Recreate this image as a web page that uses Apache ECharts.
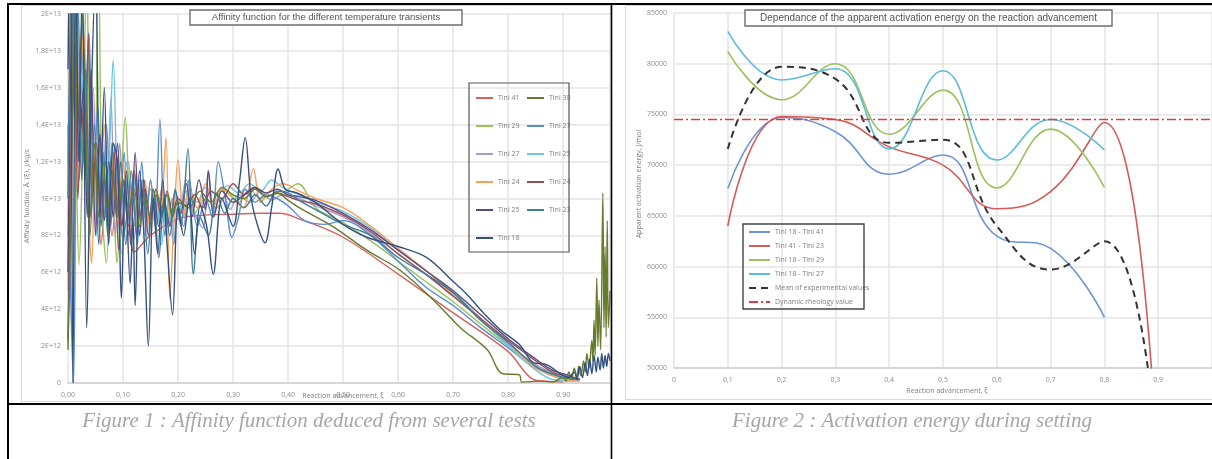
<!DOCTYPE html>
<html><head><meta charset="utf-8">
<script src="https://cdn.jsdelivr.net/npm/echarts@6/dist/echarts.min.js"></script>
<style>html,body{margin:0;padding:0;background:#fff}#c{width:1212px;height:459px}</style>
</head><body><div id="c"></div>
<script>
// ---------- Figure 1 : affinity function, [reaction advancement, value in 1E12 J/kg/s] ----------
const tini41 = [[0,2.2],[0.006,12],[0.012,19],[0.02,11],[0.03,15],[0.04,9],[0.05,12],[0.06,7.5],[0.07,11],[0.08,8],[0.09,10.5],[0.1,7.8],[0.11,9.5],[0.12,7.1],[0.15,8.0],[0.2,8.9],[0.25,9.1],[0.3,9.15],[0.35,9.2],[0.385,9.2],[0.42,8.9],[0.5,7.9],[0.6,5.9],[0.7,3.8],[0.8,1.7],[0.845,0.2],[0.87,0.1],[0.9,0.05]];
const tini30 = [[0,1.8],[0.006,10],[0.012,22],[0.018,14],[0.026,20],[0.034,12],[0.04,8],[0.048,13],[0.056,9],[0.064,12],[0.072,9.5],[0.08,11.5],[0.09,9],[0.1,11],[0.11,9.5],[0.12,10.5],[0.13,8.5],[0.14,10],[0.15,9],[0.16,10.5],[0.17,9.5],[0.18,10.2],[0.19,9],[0.2,9.8],[0.22,9.5],[0.24,10.4],[0.26,9.8],[0.28,10.6],[0.3,10.2],[0.32,10.0],[0.34,10.5],[0.36,10.1],[0.38,10.3],[0.4,9.9],[0.42,9.5],[0.48,8.5],[0.543,7.2],[0.604,6.1],[0.664,4.5],[0.713,3.0],[0.762,1.8],[0.79,0.5],[0.82,0.45],[0.825,0.05],[0.86,0.1],[0.88,0.05],[0.9,0.3],[0.905,0.1],[0.91,0.6],[0.915,0.2],[0.92,0.8],[0.925,0.3],[0.928,0.9],[0.932,0.4],[0.937,1.2],[0.94,0.6],[0.943,1.6],[0.947,0.8],[0.952,2.3],[0.954,1.2],[0.956,3.4],[0.958,1.5],[0.961,5.7],[0.963,2.0],[0.965,4.5],[0.968,1.8],[0.972,10.3],[0.974,3.0],[0.976,7.4],[0.978,2.5],[0.98,8.8],[0.982,3.0],[0.985,5.0]];
const tini29 = [[0,5],[0.004,14],[0.01,21],[0.015,12],[0.02,6.4],[0.027,13],[0.034,22],[0.04,12],[0.048,9],[0.055,24],[0.062,9.5],[0.07,6.5],[0.078,12],[0.084,9],[0.089,6.5],[0.097,11],[0.104,14.4],[0.112,10],[0.12,8.5],[0.13,11],[0.14,9],[0.15,10.5],[0.16,9],[0.17,10],[0.18,8.5],[0.19,10],[0.2,9.2],[0.215,10.4],[0.23,9.2],[0.25,10],[0.27,9.5],[0.29,10.3],[0.31,9.8],[0.33,10.5],[0.35,10],[0.37,10.2],[0.39,10.3],[0.418,10.8],[0.45,9.5],[0.5,8.7],[0.55,7.7],[0.6,6.6],[0.65,5.5],[0.7,4.4],[0.75,3.2],[0.8,2.0],[0.85,0.9],[0.88,0.4],[0.9,0.2]];
const tini27a = [[0,8],[0.006,16],[0.014,24],[0.022,13],[0.03,18],[0.038,9],[0.046,16],[0.054,8.5],[0.062,13],[0.07,9],[0.078,15.5],[0.086,8],[0.094,13],[0.102,9],[0.11,12],[0.12,7.8],[0.13,11.5],[0.14,8],[0.15,11],[0.16,8.5],[0.17,10.5],[0.18,8],[0.19,10],[0.2,9],[0.215,11],[0.23,9.2],[0.245,8.4],[0.255,11.5],[0.265,9.2],[0.28,10.5],[0.295,9.4],[0.31,10.2],[0.33,9.8],[0.35,10.4],[0.37,9.9],[0.39,10.2],[0.42,10],[0.45,9.6],[0.5,9.0],[0.55,8.1],[0.6,7.0],[0.65,5.9],[0.7,4.8],[0.75,3.4],[0.8,2.1],[0.85,1.0],[0.9,0.3],[0.93,0.15]];
const tini27b = [[0,14],[0.004,6],[0.01,0],[0.016,20],[0.022,26],[0.03,14],[0.038,19],[0.046,10],[0.054,15],[0.062,9],[0.07,14],[0.078,8.5],[0.086,13],[0.094,9],[0.102,12.5],[0.11,8],[0.118,11],[0.126,7.5],[0.134,12],[0.142,9],[0.15,11],[0.158,8.5],[0.167,14.3],[0.176,8],[0.184,10],[0.192,7.5],[0.2,9.5],[0.21,8.5],[0.22,11],[0.235,8.5],[0.25,10],[0.262,9],[0.273,12.0],[0.286,10],[0.298,7.9],[0.31,9],[0.322,10.5],[0.34,9.8],[0.36,10.2],[0.38,10],[0.4,9.6],[0.43,8.8],[0.467,8.6],[0.5,8.8],[0.55,8.0],[0.6,6.6],[0.65,5.2],[0.7,4.2],[0.75,3.0],[0.8,1.9],[0.85,0.8],[0.9,0.3],[0.93,0.15]];
const tini25a = [[0,6],[0.005,17],[0.012,23],[0.02,12],[0.028,16],[0.035,9],[0.042,17],[0.05,8],[0.058,13.5],[0.066,8.8],[0.074,12],[0.082,9],[0.09,13],[0.098,8.5],[0.106,11.5],[0.114,7.5],[0.122,12.5],[0.13,8],[0.138,11],[0.146,8],[0.155,10.5],[0.165,8.5],[0.175,9.8],[0.185,8.5],[0.195,10.4],[0.205,9.2],[0.215,10.8],[0.225,9],[0.238,11],[0.25,9.4],[0.255,11.5],[0.265,9],[0.28,10.4],[0.3,9.8],[0.32,10.2],[0.34,10.6],[0.36,10.3],[0.38,10.5],[0.4,10.2],[0.42,10.1],[0.45,9.9],[0.5,9.2],[0.55,8.3],[0.6,7.2],[0.65,6.1],[0.7,5.0],[0.75,3.7],[0.8,2.4],[0.85,1.3],[0.88,0.7],[0.9,0.5],[0.93,0.2]];
const tini25b = [[0,9],[0.006,18],[0.012,25],[0.02,14],[0.028,17],[0.036,10],[0.044,13],[0.052,8],[0.06,12],[0.068,9],[0.076,13],[0.082,17.5],[0.09,10],[0.098,7],[0.106,12],[0.114,9],[0.122,11],[0.13,8],[0.14,10.5],[0.15,8.5],[0.16,10],[0.17,7.5],[0.18,10.2],[0.19,8.5],[0.2,10],[0.21,9],[0.22,10.5],[0.235,9.8],[0.25,10.6],[0.27,10.2],[0.29,10.7],[0.31,10.3],[0.33,10.8],[0.35,10.4],[0.37,11],[0.39,10.6],[0.42,10.2],[0.45,9.8],[0.5,9.3],[0.55,8.4],[0.6,7.2],[0.65,6.1],[0.7,4.9],[0.75,3.5],[0.8,2.0],[0.85,0.7],[0.88,0.2],[0.92,0.1]];
const tini24a = [[0,12],[0.005,20],[0.012,26],[0.02,15],[0.028,19],[0.036,10],[0.043,6.5],[0.05,13],[0.058,9],[0.066,14],[0.074,9.5],[0.082,12.5],[0.09,8.5],[0.1,12],[0.11,9],[0.12,11.5],[0.13,8.5],[0.14,11],[0.15,8],[0.16,10.5],[0.168,9],[0.178,13.3],[0.185,4.6],[0.193,9],[0.2,12.1],[0.21,9],[0.22,10.5],[0.235,9.5],[0.25,10.8],[0.265,9.6],[0.28,10.5],[0.3,10],[0.318,9.5],[0.337,11.6],[0.35,9.8],[0.37,10.5],[0.39,10.8],[0.42,10.4],[0.45,10.0],[0.5,9.5],[0.55,8.5],[0.6,7.3],[0.65,6.1],[0.7,4.8],[0.75,3.5],[0.8,2.2],[0.85,0.8],[0.9,0.2],[0.93,0.1]];
const tini24b = [[0,2.4],[0.005,12],[0.012,18.5],[0.018,10],[0.025,15],[0.031,11],[0.037,18.9],[0.044,10],[0.052,13],[0.06,8.5],[0.068,12],[0.076,8.5],[0.084,12.5],[0.092,7.2],[0.1,11],[0.11,8.5],[0.12,11.5],[0.13,9],[0.14,10.5],[0.15,8.8],[0.16,10.2],[0.17,9],[0.18,10.4],[0.19,9.2],[0.2,10],[0.215,9.6],[0.23,10.2],[0.245,9.5],[0.26,10.4],[0.28,10.0],[0.3,10.8],[0.32,10.2],[0.34,10.6],[0.36,10.1],[0.38,10.3],[0.4,10.1],[0.42,9.9],[0.45,9.7],[0.5,9.1],[0.55,8.2],[0.6,7.0],[0.65,5.9],[0.7,4.7],[0.75,3.5],[0.8,2.3],[0.85,1.2],[0.88,0.6],[0.9,0.4],[0.93,0.2]];
const tini23 = [[0,10],[0.006,22],[0.012,14],[0.018,21],[0.025,11],[0.032,17],[0.04,9],[0.048,14],[0.056,7.5],[0.064,12.5],[0.072,8],[0.08,13],[0.088,9],[0.096,12],[0.105,7.5],[0.115,11.5],[0.125,8],[0.135,11],[0.145,7],[0.155,10.5],[0.165,6.8],[0.175,10],[0.185,8],[0.195,10.5],[0.205,8.5],[0.218,12.7],[0.228,5.9],[0.24,9],[0.255,8],[0.27,10.3],[0.285,9.2],[0.3,10],[0.32,9.5],[0.34,10.2],[0.36,9.6],[0.38,10.4],[0.4,10.3],[0.42,9.9],[0.45,9.4],[0.5,8.6],[0.55,8.0],[0.6,6.8],[0.65,5.9],[0.7,4.9],[0.75,3.4],[0.8,2.2],[0.85,0.9],[0.88,0.5],[0.9,0.3],[0.93,0.2]];
const tini18 = [[0,17],[0.004,25],[0.009,0],[0.014,24],[0.02,12],[0.026,22],[0.034,3.0],[0.042,15],[0.05,22],[0.058,9],[0.066,16],[0.074,7.5],[0.082,13],[0.09,12],[0.097,4.6],[0.104,11],[0.113,5.4],[0.118,9],[0.122,4.2],[0.13,11.5],[0.138,8],[0.146,2.0],[0.155,10],[0.163,7],[0.172,11],[0.18,7.5],[0.19,3.7],[0.2,9.5],[0.21,8],[0.22,10],[0.23,7],[0.24,9.6],[0.252,8.5],[0.264,5.9],[0.28,10],[0.3,8.5],[0.312,11],[0.322,13.3],[0.333,10],[0.345,8.5],[0.358,7.6],[0.37,9.5],[0.382,11.6],[0.395,10.5],[0.416,10.3],[0.449,9.8],[0.5,8.6],[0.543,7.9],[0.6,7.4],[0.652,6.8],[0.7,5.5],[0.725,4.8],[0.755,3.8],[0.785,2.9],[0.82,2.1],[0.846,1.1],[0.87,1.0],[0.895,0.5],[0.91,0.3],[0.92,0.6],[0.925,0.2],[0.93,0.9],[0.935,0.3],[0.94,1.1],[0.944,0.4],[0.948,1.3],[0.952,0.5],[0.956,1.5],[0.96,0.6],[0.963,1.4],[0.967,0.7],[0.97,1.6],[0.973,0.8],[0.976,1.5],[0.979,0.9],[0.982,1.6],[0.985,1.2]];
const fig1YLabels = ['0','2E+12','4E+12','6E+12','8E+12','1E+13','1,2E+13','1,4E+13','1,6E+13','1,8E+13','2E+13'];

// ---------- Figure 2 : apparent activation energy (J/mol) ----------
const fig2X = [0.1,0.2,0.3,0.4,0.5,0.6,0.7,0.8];
const fig2XExt = [0.1,0.2,0.3,0.4,0.5,0.6,0.7,0.8,0.9];
const t18_41 = [67700,74700,73300,69100,71000,63000,61800,55000];
const t41_23 = [64000,74800,74500,71800,70000,65700,67400,74200,38500];
const t18_29 = [81200,76450,80000,73050,77400,67750,73550,67800];
const t18_27 = [83200,78400,79500,71600,79300,70500,74500,71500];
const meanExp = [71600,79700,78500,72200,72500,64000,59700,62500,40500];
const dynRheology = 74500;
const dynX = [0,1];

// ---------- styling ----------
const fig1 = [
  {name:'Tini 41', data:tini41, color:'#d6625c'},
  {name:'Tini 29', data:tini29, color:'#98c25a'},
  {name:'Tini 27', data:tini27a, color:'#a99bd0'},
  {name:'Tini 27 ', data:tini27b, color:'#5a8ed0'},
  {name:'Tini 25 ', data:tini25b, color:'#6fc6de'},
  {name:'Tini 24', data:tini24a, color:'#f8a058'},
  {name:'Tini 24 ', data:tini24b, color:'#9a4e50'},
  {name:'Tini 25', data:tini25a, color:'#5c4a7e'},
  {name:'Tini 23', data:tini23, color:'#3d7d96'},
  {name:'Tini 30', data:tini30, color:'#667c2c'},
  {name:'Tini 18', data:tini18, color:'#34507e'}
];
const legendCol1 = ['Tini 41','Tini 29','Tini 27','Tini 24','Tini 25','Tini 18'];
const legendCol2 = ['Tini 30','Tini 27 ','Tini 25 ','Tini 24 ','Tini 23'];

const axisFont = {fontFamily:'Open Sans', fontSize:7, color:'#8c8c8c'};
const gridLine = {show:true, lineStyle:{color:'#e4e4e4', width:1.5}};

const series = [];
fig1.forEach(s => series.push({
  type:'line', name:s.name, xAxisIndex:0, yAxisIndex:0, data:s.data,
  smooth:0.35, symbol:'none', lineStyle:{width:1.4, color:s.color}, itemStyle:{color:s.color},
  clip:true, z:2
}));
function pairs(xs, ys){ return ys.map((v,i)=>[xs[i], v]); }
const fig2 = [
  {name:'Tini 18 - Tini 41', data:pairs(fig2X,t18_41), color:'#6b95d4', type:'solid'},
  {name:'Tini 41 - Tini 23', data:pairs(fig2XExt,t41_23), color:'#d45a55', type:'solid'},
  {name:'Tini 18 - Tini 29', data:pairs(fig2X,t18_29), color:'#9bc25a', type:'solid'},
  {name:'Tini 18 - Tini 27', data:pairs(fig2X,t18_27), color:'#5bbcdc', type:'solid'},
  {name:'Mean of experimental values', data:pairs(fig2XExt,meanExp), color:'#333333', type:[7,5], width:2},
  {name:'Dynamic rheology value', data:dynX.map(x=>[x,dynRheology]), color:'#e03c3c', type:[9,3,2,3], width:1.6, smooth:false}
];
fig2.forEach(s => series.push({
  type:'line', name:s.name, xAxisIndex:1, yAxisIndex:1, data:s.data,
  smooth: s.smooth===false ? false : 0.45, symbol:'none',
  lineStyle:{width:s.width||1.6, color:s.color, type:s.type}, itemStyle:{color:s.color}, clip:true
}));

const legendText = {fontFamily:'Open Sans', fontSize:7, color:'#7f7f7f', lineHeight:8};
const legendBase = {orient:'vertical', padding:0, itemHeight:8, selectedMode:false, textStyle:legendText, itemStyle:{opacity:0}};
const option = {
  backgroundColor:'#ffffff',
  animation:false,
  grid:[
    {left:68, top:14, width:542, height:369},
    {left:674, top:13, width:548, height:355}
  ],
  xAxis:[
    {gridIndex:0, type:'value', min:0, max:0.985, interval:0.1,
     axisLine:{show:true, lineStyle:{color:'#d0d0d0', width:1.5}}, axisTick:{show:false},
     axisLabel:Object.assign({margin:8, showMaxLabel:false, formatter:v=>v.toFixed(2).replace('.',',')}, axisFont),
     splitLine:gridLine},
    {gridIndex:1, type:'value', min:0, max:1, interval:0.1,
     axisLine:{show:true, lineStyle:{color:'#d0d0d0', width:1.5}}, axisTick:{show:false},
     axisLabel:Object.assign({margin:8, showMaxLabel:false, formatter:v=>v===0?'0':parseFloat(v.toFixed(1)).toString().replace('.',',')}, axisFont),
     splitLine:gridLine}
  ],
  yAxis:[
    {gridIndex:0, type:'value', min:0, max:20, interval:2,
     axisLine:{show:false}, axisTick:{show:false},
     axisLabel:Object.assign({margin:7, formatter:v=>fig1YLabels[Math.round(v/2)]}, axisFont),
     splitLine:gridLine},
    {gridIndex:1, type:'value', min:50000, max:85000, interval:5000,
     axisLine:{show:false}, axisTick:{show:false},
     axisLabel:Object.assign({margin:7, formatter:v=>String(v)}, axisFont),
     splitLine:gridLine}
  ],
  legend:[
    Object.assign({data:legendCol1, left:475, top:94, itemGap:20, itemWidth:17, formatter:n=>n.trim()}, legendBase),
    Object.assign({data:legendCol2, left:526, top:94, itemGap:20, itemWidth:17, formatter:n=>n.trim()}, legendBase),
    Object.assign({data:fig2.map(s=>s.name), left:748, top:228, itemGap:6, itemWidth:21}, legendBase)
  ],
  series:series,
  graphic:[
    // chart frames
    {type:'rect', shape:{x:21.5, y:5.5, width:589, height:396}, style:{fill:null, stroke:'#d9d9d9', lineWidth:1}, z:-1},
    {type:'rect', shape:{x:625.5, y:5.5, width:600, height:394}, style:{fill:null, stroke:'#d9d9d9', lineWidth:1}, z:-1},
    // legend boxes
    {type:'rect', shape:{x:469, y:83, width:100, height:169}, style:{fill:'rgba(255,255,255,0)', stroke:'#555', lineWidth:1.2}, z:5},
    {type:'rect', shape:{x:743, y:224, width:121, height:85}, style:{fill:'rgba(255,255,255,0)', stroke:'#444', lineWidth:1.4}, z:5},
    // titles
    {type:'rect', shape:{x:190, y:10, width:272, height:15}, style:{fill:'#fff', stroke:'#6e6e6e', lineWidth:1.4}, z:10},
    {type:'text', x:326, y:17.5, z:11, style:{text:'Affinity function for the different temperature transients', fontFamily:'Liberation Sans', fontSize:9.5, fill:'#555', align:'center', verticalAlign:'middle'}},
    {type:'rect', shape:{x:745, y:10, width:367, height:16}, style:{fill:'#fff', stroke:'#6e6e6e', lineWidth:1.4}, z:10},
    {type:'text', x:928.5, y:18, z:11, style:{text:'Dependance of the apparent activation energy on the reaction advancement', fontFamily:'Liberation Sans', fontSize:10, fill:'#555', align:'center', verticalAlign:'middle'}},
    // axis titles
    {type:'text', x:27, y:196, rotation:Math.PI/2, z:11, style:{text:'Affinity function, Ã\u1d62 (ξ), J/kg/s', fontFamily:'DejaVu Sans', fontSize:6.5, fill:'#808080', align:'center', verticalAlign:'middle'}},
    {type:'text', x:343, y:396, z:11, style:{text:'Reaction advancement, ξ', fontFamily:'Open Sans', fontSize:7, fill:'#808080', align:'center', verticalAlign:'middle'}},
    {type:'text', x:639, y:184, rotation:Math.PI/2, z:11, style:{text:'Apparent activation energy, J/mol', fontFamily:'Open Sans', fontSize:7, fill:'#808080', align:'center', verticalAlign:'middle'}},
    {type:'text', x:947, y:391, z:11, style:{text:'Reaction advancement, ξ', fontFamily:'Open Sans', fontSize:7, fill:'#808080', align:'center', verticalAlign:'middle'}},
    // table borders
    {type:'line', shape:{x1:7, y1:4, x2:1212, y2:4}, style:{stroke:'#000', lineWidth:2}, z:20},
    {type:'line', shape:{x1:7, y1:404, x2:1212, y2:404}, style:{stroke:'#000', lineWidth:2}, z:20},
    {type:'line', shape:{x1:8, y1:3, x2:8, y2:459}, style:{stroke:'#000', lineWidth:2}, z:20},
    {type:'line', shape:{x1:611.5, y1:3, x2:611.5, y2:459}, style:{stroke:'#000', lineWidth:1.6}, z:20},
    // captions
    {type:'text', x:309, y:421, z:11, style:{text:'Figure 1 : Affinity function deduced from several tests', fontFamily:'Liberation Serif', fontStyle:'italic', fontSize:21, fill:'#a6a6a6', align:'center', verticalAlign:'middle'}},
    {type:'text', x:912, y:421, z:11, style:{text:'Figure 2 : Activation energy during setting', fontFamily:'Liberation Serif', fontStyle:'italic', fontSize:21, fill:'#a6a6a6', align:'center', verticalAlign:'middle'}}
  ]
};
const chart = echarts.init(document.getElementById('c'), null, {renderer:'canvas'});
chart.setOption(option);
</script></body></html>
